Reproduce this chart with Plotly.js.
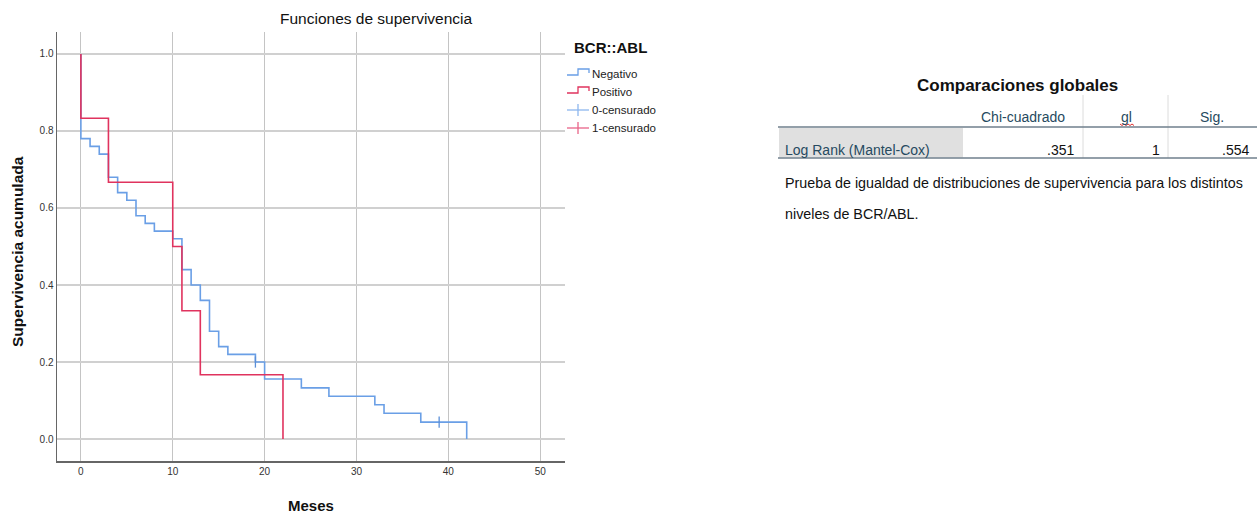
<!DOCTYPE html>
<html>
<head>
<meta charset="utf-8">
<script src="https://cdn.plot.ly/plotly-3.0.1.min.js"></script>
<style>html,body{margin:0;padding:0;background:#fff;}#chart{width:1257px;height:514px;}</style>
</head>
<body>
<div id="chart"></div>
<script>
// ---- data ----
const negTimes = [0, 0, 1, 2, 3, 4, 5, 6, 7, 8, 10, 11, 12, 13, 14, 15, 16, 19, 20, 24, 27, 32, 33, 37, 42];
const negSurv  = [1.0, 0.78, 0.76, 0.74, 0.68, 0.64, 0.62, 0.58, 0.56, 0.54, 0.52, 0.44, 0.40, 0.36, 0.28, 0.24, 0.22, 0.20, 0.156, 0.133, 0.111, 0.089, 0.067, 0.044, 0.0];
const posTimes = [0, 0, 3, 10, 11, 13, 22];
const posSurv  = [1.0, 0.833, 0.667, 0.5, 0.333, 0.167, 0.0];
const negCensTimes = [19, 39];
const negCensSurv  = [0.2, 0.044];
const xTicks = [0, 10, 20, 30, 40, 50];
const yTicks = [0, 0.2, 0.4, 0.6, 0.8, 1.0];
const legendLabels = ["Negativo", "Positivo", "0-censurado", "1-censurado"];
const tableHeaders = ["Chi-cuadrado", "gl", "Sig."];
const tableRowLabel = "Log Rank (Mantel-Cox)";
const tableValues = [".351", "1", ".554"];

const FONT = "Liberation Sans, Arial, sans-serif";
const BLUE = "#6a9fe6", RED = "#e0335e";
const BLUE_L = "#8db6ee", RED_L = "#e86488";
const HDR = "#264a60";

// plot area in pixels
const L = 57, R = 565, T = 32, B = 461, W = 1257, H = 514;
const px = x => (x - L) / (R - L);
const py = y => (B - y) / (B - T);

const traces = [
  {x: negTimes, y: negSurv, mode: "lines", line: {shape: "hv", color: BLUE, width: 1.6}, hoverinfo: "x+y"},
  {x: posTimes, y: posSurv, mode: "lines", line: {shape: "hv", color: RED, width: 1.6}, hoverinfo: "x+y"},
  {x: negCensTimes, y: negCensSurv, mode: "markers",
   marker: {symbol: "line-ns", size: 8, color: BLUE, line: {color: "#5a8fd8", width: 1.3}}, hoverinfo: "x+y"}
];

const shapes = [];
const annotations = [];

// titles
annotations.push({xref: "paper", yref: "paper", x: px(376), y: py(18), text: "Funciones de supervivencia",
  showarrow: false, xanchor: "center", yanchor: "middle", font: {family: FONT, size: 15.5, color: "#111"}});
annotations.push({xref: "paper", yref: "paper", x: px(311), y: py(505), text: "<b>Meses</b>",
  showarrow: false, xanchor: "center", yanchor: "middle", font: {family: FONT, size: 15, color: "#111"}});
annotations.push({xref: "paper", yref: "paper", x: px(18), y: py(252), text: "<b>Supervivencia acumulada</b>",
  showarrow: false, textangle: -90, xanchor: "center", yanchor: "middle", font: {family: FONT, size: 15.5, color: "#111"}});

// legend (custom)
annotations.push({xref: "paper", yref: "paper", x: px(610), y: py(47), text: "<b>BCR::ABL</b>",
  showarrow: false, xanchor: "center", yanchor: "middle", font: {family: FONT, size: 15, color: "#111"}});
const legY = [74, 92, 110, 128];
const stepCols = [BLUE, RED];
for (let i = 0; i < 2; i++) {
  const y = legY[i];
  shapes.push({type: "path", xref: "paper", yref: "paper",
    path: `M${px(567)},${py(y + 1)} L${px(578)},${py(y + 1)} L${px(578)},${py(y - 5)} L${px(589)},${py(y - 5)} L${px(589)},${py(y - 1)}`,
    line: {color: stepCols[i], width: 1.3}});
}
const censCols = [BLUE_L, RED_L];
for (let i = 0; i < 2; i++) {
  const y = legY[i + 2];
  shapes.push({type: "line", xref: "paper", yref: "paper", x0: px(567), x1: px(589), y0: py(y), y1: py(y), line: {color: censCols[i], width: 1.3}});
  shapes.push({type: "line", xref: "paper", yref: "paper", x0: px(578), x1: px(578), y0: py(y - 6), y1: py(y + 6), line: {color: censCols[i], width: 1.3}});
}
legendLabels.forEach((t, i) => {
  annotations.push({xref: "paper", yref: "paper", x: px(590), y: py(legY[i]), text: t, showarrow: false,
    xanchor: "left", yanchor: "middle", font: {family: FONT, size: 11.5, color: "#222"}});
});

// table
annotations.push({xref: "paper", yref: "paper", x: px(1017), y: py(85), text: "<b>Comparaciones globales</b>",
  showarrow: false, xanchor: "center", yanchor: "middle", font: {family: FONT, size: 17, color: "#111"}});
shapes.push({type: "rect", xref: "paper", yref: "paper", x0: px(779), x1: px(963), y0: py(128), y1: py(157.5),
  fillcolor: "#e0e0e0", line: {width: 0}, layer: "below"});
[1083, 1168].forEach(x => shapes.push({type: "line", xref: "paper", yref: "paper", x0: px(x), x1: px(x), y0: py(95), y1: py(158),
  line: {color: "#dcdcdc", width: 1}}));
[127, 158].forEach(y => shapes.push({type: "line", xref: "paper", yref: "paper", x0: px(778), x1: px(1257), y0: py(y), y1: py(y),
  line: {color: "#6f7f8c", width: 1.6}}));
const hdrX = [1023, 1126, 1212];
tableHeaders.forEach((t, i) => {
  annotations.push({xref: "paper", yref: "paper", x: px(hdrX[i]), y: py(117), text: t, showarrow: false,
    xanchor: "center", yanchor: "middle", font: {family: FONT, size: 14, color: HDR}});
});
let sq = `M${px(1120)},${py(124)}`;
for (let k = 1; k <= 7; k++) sq += ` L${px(1120 + k * 2)},${py(k % 2 ? 125.5 : 124)}`;
shapes.push({type: "path", xref: "paper", yref: "paper", path: sq, line: {color: "#e03030", width: 1}});

annotations.push({xref: "paper", yref: "paper", x: px(783), y: py(150), text: tableRowLabel, showarrow: false,
  xanchor: "left", yanchor: "middle", font: {family: FONT, size: 14, color: HDR}});
const valX = [1076, 1162, 1251];
tableValues.forEach((t, i) => {
  annotations.push({xref: "paper", yref: "paper", x: px(valX[i]), y: py(150), text: t, showarrow: false,
    xanchor: "right", yanchor: "middle", font: {family: FONT, size: 14, color: "#111"}});
});
annotations.push({xref: "paper", yref: "paper", x: px(783), y: py(183),
  text: "Prueba de igualdad de distribuciones de supervivencia para los distintos", showarrow: false,
  xanchor: "left", yanchor: "middle", font: {family: FONT, size: 14.3, color: "#111"}});
annotations.push({xref: "paper", yref: "paper", x: px(783), y: py(214),
  text: "niveles de BCR/ABL.", showarrow: false,
  xanchor: "left", yanchor: "middle", font: {family: FONT, size: 14.3, color: "#111"}});

const layout = {
  width: W, height: H,
  margin: {l: L, r: W - R, t: T, b: H - B, pad: 0},
  paper_bgcolor: "#fff", plot_bgcolor: "#fff",
  showlegend: false,
  font: {family: FONT, color: "#333"},
  xaxis: {range: [-2.6, 52.7], tickvals: xTicks, ticktext: xTicks.map(String), showgrid: true, gridcolor: "#c4c4c4", gridwidth: 1,
    zeroline: false, showline: true, linecolor: "#666", linewidth: 1.5, ticks: "", tickfont: {size: 10, color: "#333"}, fixedrange: true},
  yaxis: {range: [-0.057, 1.057], tickvals: yTicks, ticktext: yTicks.map(v => v.toFixed(1)), showgrid: true, gridcolor: "#d0d0d0", gridwidth: 1.5,
    zeroline: false, showline: true, linecolor: "#666", linewidth: 1.5, ticks: "", tickfont: {size: 10, color: "#333"}, fixedrange: true},
  shapes: shapes,
  annotations: annotations
};

Plotly.newPlot("chart", traces, layout, {displayModeBar: false, staticPlot: true});
</script>
</body>
</html>
